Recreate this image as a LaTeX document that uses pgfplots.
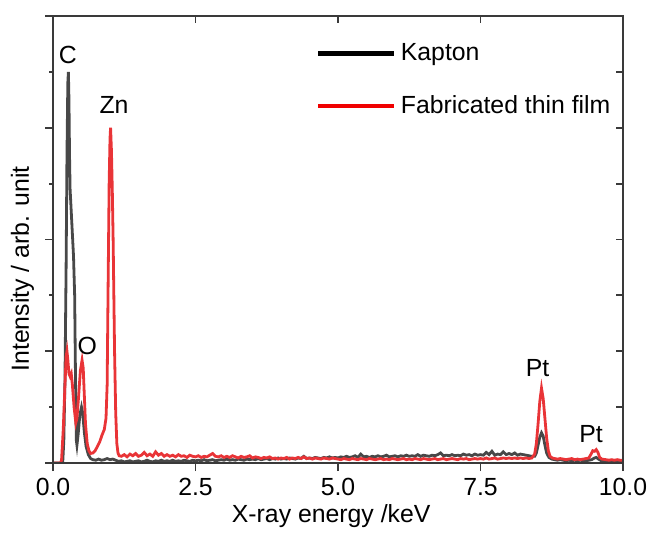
\documentclass[border=0pt]{standalone}
\usepackage{fontspec}
\setmainfont{Liberation Sans}
\usepackage{pgfplots}
\usepackage{pgfplotstable}
\pgfplotsset{compat=1.18}
\definecolor{kgray}{HTML}{484848}
\definecolor{fred}{HTML}{E93437}
\definecolor{legred}{HTML}{F00000}
\definecolor{axgray}{HTML}{3A3A3A}

\pgfplotstableread{
x y
0.00 0
0.10 0
0.17 0
0.19 0.4
0.21 1.5
0.23 3.5
0.245 5.5
0.26 6.8
0.27 7.0
0.28 6.5
0.29 5.5
0.30 4.9
0.32 4.5
0.34 4.1
0.36 3.7
0.38 3.0
0.395 1.5
0.41 0.4
0.42 0.32
0.44 0.5
0.47 0.85
0.50 1.0
0.52 0.9
0.55 0.55
0.58 0.3
0.62 0.15
0.66 0.08
0.70 0.06
0.75 0.05
0.80 0.07
0.85 0.05
0.90 0.06
0.95 0.08
1.00 0.06
1.05 0.07
1.10 0.05
1.15 0.03
1.20 0.04
1.25 0.02
1.30 0.03
1.35 0.04
1.40 0.02
1.45 0.03
1.50 0.04
1.55 0.02
1.60 0.03
1.65 0.05
1.70 0.03
1.75 0.02
1.80 0.04
1.85 0.03
1.90 0.05
1.95 0.03
2.00 0.04
2.05 0.03
2.10 0.05
2.15 0.03
2.20 0.04
2.25 0.03
2.30 0.05
2.35 0.04
2.40 0.03
2.45 0.05
2.50 0.04
2.55 0.05
2.60 0.04
2.65 0.06
2.70 0.04
2.75 0.05
2.80 0.06
2.85 0.04
2.90 0.05
2.95 0.06
3.00 0.05
3.05 0.07
3.10 0.05
3.15 0.06
3.20 0.05
3.25 0.07
3.30 0.06
3.35 0.05
3.40 0.07
3.45 0.06
3.50 0.07
3.55 0.06
3.60 0.08
3.65 0.06
3.70 0.07
3.75 0.08
3.80 0.06
3.85 0.08
3.90 0.07
3.95 0.09
4.00 0.07
4.05 0.08
4.10 0.07
4.15 0.09
4.20 0.08
4.25 0.07
4.30 0.09
4.35 0.08
4.40 0.12
4.45 0.08
4.50 0.09
4.55 0.08
4.60 0.10
4.65 0.09
4.70 0.08
4.75 0.10
4.80 0.09
4.85 0.11
4.90 0.09
4.95 0.10
5.00 0.09
5.05 0.11
5.10 0.10
5.15 0.12
5.20 0.10
5.25 0.11
5.30 0.13
5.35 0.10
5.40 0.16
5.45 0.11
5.50 0.12
5.55 0.10
5.60 0.12
5.65 0.11
5.70 0.13
5.75 0.11
5.80 0.12
5.85 0.14
5.90 0.11
5.95 0.12
6.00 0.13
6.05 0.11
6.10 0.13
6.15 0.12
6.20 0.14
6.25 0.12
6.30 0.13
6.35 0.12
6.40 0.15
6.45 0.12
6.50 0.14
6.55 0.13
6.60 0.12
6.65 0.14
6.70 0.13
6.75 0.15
6.80 0.18
6.85 0.13
6.90 0.14
6.95 0.13
7.00 0.15
7.05 0.13
7.10 0.14
7.15 0.13
7.20 0.16
7.25 0.14
7.30 0.15
7.35 0.13
7.40 0.16
7.45 0.14
7.50 0.15
7.55 0.14
7.60 0.19
7.65 0.15
7.70 0.21
7.75 0.14
7.80 0.16
7.85 0.15
7.90 0.20
7.95 0.15
8.00 0.17
8.05 0.15
8.10 0.18
8.15 0.14
8.20 0.16
8.25 0.15
8.30 0.14
8.35 0.13
8.40 0.12
8.45 0.12
8.48 0.18
8.51 0.32
8.54 0.46
8.57 0.54
8.60 0.48
8.63 0.32
8.66 0.18
8.70 0.10
8.75 0.07
8.80 0.06
8.85 0.05
8.90 0.06
8.95 0.05
9.00 0.04
9.05 0.05
9.10 0.04
9.15 0.05
9.20 0.04
9.25 0.05
9.30 0.04
9.35 0.04
9.40 0.05
9.45 0.06
9.50 0.09
9.53 0.10
9.57 0.07
9.62 0.04
9.70 0.03
9.75 0.04
9.80 0.03
9.85 0.04
9.90 0.03
9.95 0.03
10.00 0.03
}\kapton

\pgfplotstableread{
x y
0.00 0
0.13 0
0.15 0.05
0.18 0.6
0.21 1.4
0.23 1.9
0.245 2.0
0.26 1.85
0.28 1.6
0.30 1.55
0.32 1.6
0.34 1.4
0.37 1.0
0.40 0.72
0.42 0.8
0.45 1.2
0.48 1.65
0.51 1.84
0.53 1.7
0.55 1.2
0.57 0.7
0.60 0.35
0.63 0.22
0.66 0.17
0.70 0.18
0.74 0.22
0.78 0.3
0.82 0.38
0.86 0.5
0.90 0.6
0.93 0.8
0.95 1.4
0.97 3.5
0.985 5.0
1.00 5.8
1.01 6.0
1.025 5.6
1.04 4.9
1.055 4.0
1.08 2.0
1.10 0.9
1.12 0.35
1.14 0.18
1.16 0.13
1.20 0.12
1.25 0.15
1.30 0.11
1.35 0.16
1.40 0.13
1.45 0.17
1.50 0.12
1.55 0.14
1.60 0.19
1.65 0.13
1.70 0.16
1.75 0.12
1.80 0.20
1.85 0.14
1.90 0.17
1.95 0.12
2.00 0.15
2.05 0.12
2.10 0.14
2.15 0.11
2.20 0.15
2.25 0.12
2.30 0.13
2.35 0.10
2.40 0.14
2.45 0.12
2.50 0.11
2.55 0.13
2.60 0.10
2.65 0.12
2.70 0.11
2.75 0.14
2.80 0.17
2.85 0.12
2.90 0.11
2.95 0.13
3.00 0.10
3.05 0.12
3.10 0.10
3.15 0.13
3.20 0.11
3.25 0.09
3.30 0.12
3.35 0.10
3.40 0.11
3.45 0.13
3.50 0.09
3.55 0.11
3.60 0.10
3.65 0.08
3.70 0.10
3.75 0.09
3.80 0.11
3.85 0.08
3.90 0.09
3.95 0.07
4.00 0.09
4.05 0.08
4.10 0.10
4.15 0.07
4.20 0.09
4.25 0.08
4.30 0.10
4.35 0.08
4.40 0.11
4.45 0.08
4.50 0.09
4.55 0.07
4.60 0.09
4.65 0.08
4.70 0.07
4.75 0.09
4.80 0.08
4.85 0.07
4.90 0.09
4.95 0.08
5.00 0.07
5.05 0.06
5.10 0.08
5.15 0.07
5.20 0.06
5.25 0.08
5.30 0.07
5.35 0.06
5.40 0.08
5.45 0.07
5.50 0.06
5.55 0.08
5.60 0.07
5.65 0.06
5.70 0.07
5.75 0.08
5.80 0.06
5.85 0.07
5.90 0.06
5.95 0.08
6.00 0.07
6.05 0.06
6.10 0.07
6.15 0.08
6.20 0.06
6.25 0.07
6.30 0.06
6.35 0.08
6.40 0.07
6.45 0.06
6.50 0.08
6.55 0.07
6.60 0.06
6.65 0.07
6.70 0.08
6.75 0.06
6.80 0.07
6.85 0.08
6.90 0.06
6.95 0.07
7.00 0.08
7.05 0.07
7.10 0.06
7.15 0.08
7.20 0.07
7.25 0.08
7.30 0.06
7.35 0.07
7.40 0.08
7.45 0.07
7.50 0.08
7.55 0.07
7.60 0.09
7.65 0.07
7.70 0.08
7.75 0.09
7.80 0.07
7.85 0.08
7.90 0.09
7.95 0.08
8.00 0.09
8.05 0.08
8.10 0.09
8.15 0.08
8.20 0.09
8.25 0.08
8.30 0.09
8.35 0.08
8.40 0.09
8.45 0.16
8.48 0.35
8.51 0.70
8.54 1.10
8.57 1.34
8.60 1.15
8.63 0.80
8.66 0.45
8.69 0.22
8.72 0.12
8.76 0.09
8.80 0.08
8.85 0.07
8.90 0.08
8.95 0.07
9.00 0.06
9.05 0.07
9.10 0.08
9.15 0.06
9.20 0.07
9.25 0.06
9.30 0.07
9.35 0.08
9.40 0.09
9.44 0.16
9.47 0.22
9.50 0.21
9.53 0.24
9.56 0.19
9.59 0.10
9.63 0.07
9.70 0.06
9.75 0.05
9.80 0.06
9.85 0.05
9.90 0.06
9.95 0.05
10.00 0.05
}\film

\begin{document}
\begin{tikzpicture}
\pgfplotsset{
  common/.style={
    width=285pt, height=223.5pt, scale only axis,
    xmin=0, xmax=10, ymin=0, ymax=8,
    axis line style={color=axgray, line width=0.9pt},
    tick style={color=axgray, line width=0.9pt},
    font=\fontsize{12.4}{14.8}\selectfont,
  }
}
\begin{axis}[common,
  xtick={0,2.5,5,7.5,10},
  xticklabel style={/pgf/number format/.cd, fixed, fixed zerofill, precision=1, assume math mode=true},
  ytick={0,2,4,6,8}, minor ytick={1,3,5,7}, yticklabels={},
  tick align=outside, xtick pos=bottom, ytick pos=left,
  major tick length=4pt, minor tick length=2pt,
  xlabel={X-ray energy /keV}, ylabel={Intensity / arb. unit},
  xlabel style={at={(axis description cs:0.488,0)}, anchor=base, yshift=-29.5pt},
  ylabel style={at={(axis description cs:-0.0535,0.434)}, anchor=center, rotate=0},
  legend style={draw=none, fill=none, at={(axis description cs:0.45,0.957)}, anchor=north west,
    row sep=12pt, font=\fontsize{12.4}{14.8}\selectfont},
  legend cell align=left,
  legend image code/.code={\draw[#1] (0pt,0pt) -- (35pt,0pt); \path (0pt,0pt) -- (38pt,0pt);},
]
\addlegendimage{black, line width=2.5pt}
\addlegendentry{Kapton}
\addlegendimage{legred, line width=2pt}
\addlegendentry{Fabricated thin film}
\addplot[kgray, line width=1.4pt, forget plot] table[x=x, y=y] {\kapton};
\addplot[fred, line width=1.4pt, forget plot] table[x=x, y=y] {\film};
\node at (axis cs:0.26,7.30) {C};
\node at (axis cs:1.07,6.40) {Zn};
\node at (axis cs:0.60,2.09) {O};
\node at (axis cs:8.50,1.70) {Pt};
\node at (axis cs:9.44,0.51) {Pt};
\end{axis}
\begin{axis}[common,
  xtick={2.5,5,7.5}, xticklabels={},
  ytick={1,2,3,4,5,6,7}, yticklabels={},
  tick align=inside, xtick pos=top, ytick pos=right,
  major tick length=3.5pt,
]
\end{axis}
\pgfresetboundingbox
\path (current axis.south west) ++(-26.5pt,-34.5pt) rectangle ++(325.5pt,266pt);
\end{tikzpicture}
\end{document}
